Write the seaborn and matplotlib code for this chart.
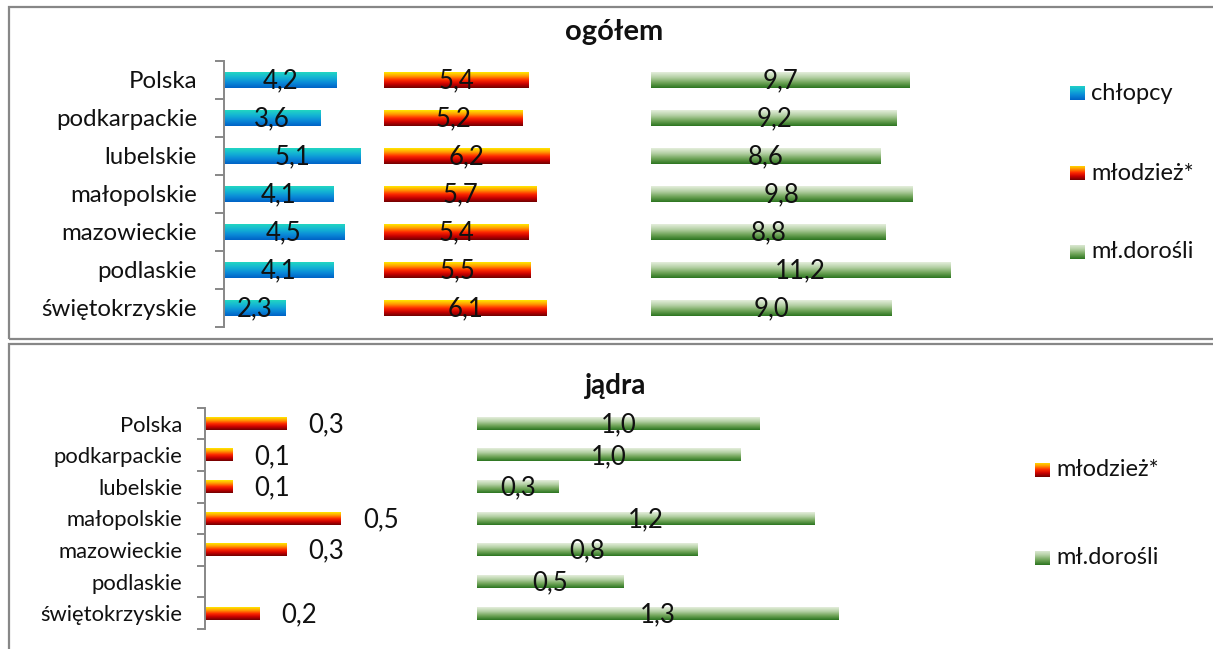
import numpy as np
import pandas as pd
import matplotlib
matplotlib.use("Agg")
import matplotlib.pyplot as plt
from matplotlib.colors import LinearSegmentedColormap
from matplotlib.patches import Rectangle
from matplotlib.ticker import FixedLocator
import seaborn as sns

# ---------------- data ----------------
categories = ['Polska', 'podkarpackie', 'lubelskie', 'małopolskie',
              'mazowieckie', 'podlaskie', 'świętokrzyskie']

ogolem_chlopcy = [4.2, 3.6, 5.1, 4.1, 4.5, 4.1, 2.3]
ogolem_mlodziez = [5.4, 5.2, 6.2, 5.7, 5.4, 5.5, 6.1]
ogolem_dorosli = [9.7, 9.2, 8.6, 9.8, 8.8, 11.2, 9.0]

jadra_mlodziez = [0.3, 0.1, 0.1, 0.5, 0.3, np.nan, 0.2]
jadra_dorosli = [1.04, 0.97, 0.30, 1.24, 0.81, 0.54, 1.33]

series_names = ['chłopcy', 'młodzież*', 'mł.dorośli']
title_top = 'ogółem'
title_bottom = 'jądra'

# ---------------- style ----------------
sns.set_theme(style='white')
FONT = ['Lato', 'DejaVu Sans']
plt.rcParams['font.family'] = FONT

W, H = 1213, 649
fig = plt.figure(figsize=(W / 100, H / 100), dpi=100)

grad_blue = LinearSegmentedColormap.from_list('b', ['#22D6C2', '#14B4D4', '#0A8AD8', '#0062C6'])
grad_red = LinearSegmentedColormap.from_list('r', ['#FFE800', '#FF9A00', '#FF2A00', '#C80000', '#700000'])
grad_green = LinearSegmentedColormap.from_list('g', ['#E4EEDC', '#B4D0A4', '#6FA458', '#2C7520'])
grad = np.linspace(0, 1, 64).reshape(-1, 1)

AXIS_GRAY = '#878787'
LABEL_FS = 18.5


def fig_rect(px_left, px_top, px_right, px_bottom):
    return [px_left / W, 1 - px_bottom / H, (px_right - px_left) / W, (px_bottom - px_top) / H]


def fmt(v):
    return f"{v:.1f}".replace('.', ',')


def gradient_bars(ax, patches, cmap):
    for p in patches:
        x0, y0, w, h = p.get_x(), p.get_y(), p.get_width(), p.get_height()
        if not np.isfinite(w) or w == 0:
            continue
        ax.imshow(grad, cmap=cmap, extent=(x0, x0 + w, y0 + h, y0), origin='upper',
                  aspect='auto', zorder=2, interpolation='bilinear')
        p.set_visible(False)


def style_axis(ax, xmax, label_size, pad, ticklen):
    ax.set_xlim(0, xmax)
    ax.set_ylim(len(categories) - 0.5, -0.5)
    ax.set_aspect('auto')
    for s in ['top', 'right', 'bottom']:
        ax.spines[s].set_visible(False)
    ax.spines['left'].set_color(AXIS_GRAY)
    ax.spines['left'].set_linewidth(1.4)
    ax.set_xticks([])
    ax.set_yticks(range(len(categories)))
    ax.set_yticklabels(categories)
    ax.yaxis.set_minor_locator(FixedLocator(np.arange(-0.5, len(categories), 1.0)))
    ax.tick_params(axis='y', which='major', length=0, pad=pad, labelsize=label_size,
                   labelcolor='#111111')
    ax.tick_params(axis='y', which='minor', length=ticklen, width=1.4, color=AXIS_GRAY,
                   direction='out', left=True)
    ax.set_xlabel('')
    ax.set_ylabel('')
    ax.set_facecolor('none')
    ax.grid(False)


def legend_marker(px_x, px_yc, cmap, label, size=15, fs=17):
    mk = fig.add_axes(fig_rect(px_x, px_yc - size / 2, px_x + size, px_yc + size / 2))
    mk.imshow(grad, cmap=cmap, aspect='auto', origin='upper', interpolation='bilinear')
    mk.set_axis_off()
    fig.text((px_x + size + 6) / W, 1 - px_yc / H, label, fontsize=fs, va='center',
             ha='left', color='#111111', family=FONT)


# ---------------- panel borders ----------------
fig.patches.append(Rectangle((9 / W, 1 - 339 / H), 1.2, (339 - 6.5) / H, transform=fig.transFigure,
                             fill=False, edgecolor=AXIS_GRAY, linewidth=1.6))
fig.patches.append(Rectangle((9 / W, -0.2), 1.2, 0.2 + 1 - 344.5 / H, transform=fig.transFigure,
                             fill=False, edgecolor=AXIS_GRAY, linewidth=1.6))

# ---------------- top panel: ogółem ----------------
OFF_MLODZIEZ = 6.0
OFF_DOROSLI = 16.0
ax1 = fig.add_axes(fig_rect(224, 61, 1025, 327))
df_top = pd.DataFrame({'kategoria': categories, 'chlopcy': ogolem_chlopcy})
sns.barplot(data=df_top, x='chlopcy', y='kategoria', orient='h', ax=ax1,
            width=0.42, color='#1496D6', saturation=1)
p_blue = list(ax1.patches)
b_red = ax1.barh(range(len(categories)), ogolem_mlodziez, left=OFF_MLODZIEZ, height=0.42)
b_green = ax1.barh(range(len(categories)), ogolem_dorosli, left=OFF_DOROSLI, height=0.42)
gradient_bars(ax1, p_blue, grad_blue)
gradient_bars(ax1, b_red.patches, grad_red)
gradient_bars(ax1, b_green.patches, grad_green)
for i in range(len(categories)):
    ax1.text(ogolem_chlopcy[i] / 2, i + 0.03, fmt(ogolem_chlopcy[i]), ha='center', va='center',
             fontsize=LABEL_FS, color='#111111', zorder=3)
    ax1.text(OFF_MLODZIEZ + ogolem_mlodziez[i] / 2, i + 0.03, fmt(ogolem_mlodziez[i]), ha='center',
             va='center', fontsize=LABEL_FS, color='#111111', zorder=3)
    ax1.text(OFF_DOROSLI + ogolem_dorosli[i] / 2, i + 0.03, fmt(ogolem_dorosli[i]), ha='center',
             va='center', fontsize=LABEL_FS, color='#111111', zorder=3)
style_axis(ax1, 30, 17.3, 19.5, 6.5)
fig.text(614 / W, 1 - 32 / H, title_top, ha='center', va='center', fontsize=21,
         fontweight='bold', color='#111111', family=FONT)

legend_marker(1070, 93, grad_blue, series_names[0])
legend_marker(1070, 173, grad_red, series_names[1])
legend_marker(1070, 252, grad_green, series_names[2])

# ---------------- bottom panel: jądra ----------------
OFF_J_DOROSLI = 1.0
ax2 = fig.add_axes(fig_rect(205, 407.7, 1021, 629))
df_bot = pd.DataFrame({'kategoria': categories, 'mlodziez': jadra_mlodziez})
sns.barplot(data=df_bot, x='mlodziez', y='kategoria', orient='h', ax=ax2,
            width=0.40, color='#FF3000', saturation=1)
p_red2 = list(ax2.patches)
b_green2 = ax2.barh(range(len(categories)), jadra_dorosli, left=OFF_J_DOROSLI, height=0.40)
gradient_bars(ax2, p_red2, grad_red)
gradient_bars(ax2, b_green2.patches, grad_green)
for i in range(len(categories)):
    v = jadra_mlodziez[i]
    if np.isfinite(v):
        ax2.text(v + 0.08, i + 0.04, fmt(v), ha='left', va='center', fontsize=LABEL_FS,
                 color='#111111', zorder=3)
    ax2.text(OFF_J_DOROSLI + jadra_dorosli[i] / 2, i + 0.04, fmt(jadra_dorosli[i]), ha='center',
             va='center', fontsize=LABEL_FS, color='#111111', zorder=3)
style_axis(ax2, 3.0, 15.8, 16.5, 5.5)
fig.text(616 / W, 1 - 386 / H, title_bottom, ha='center', va='center', fontsize=20,
         fontweight='bold', color='#111111', family=FONT)

legend_marker(1035, 470, grad_red, series_names[1])
legend_marker(1035, 558, grad_green, series_names[2])

fig.savefig('out.png', dpi=100)
